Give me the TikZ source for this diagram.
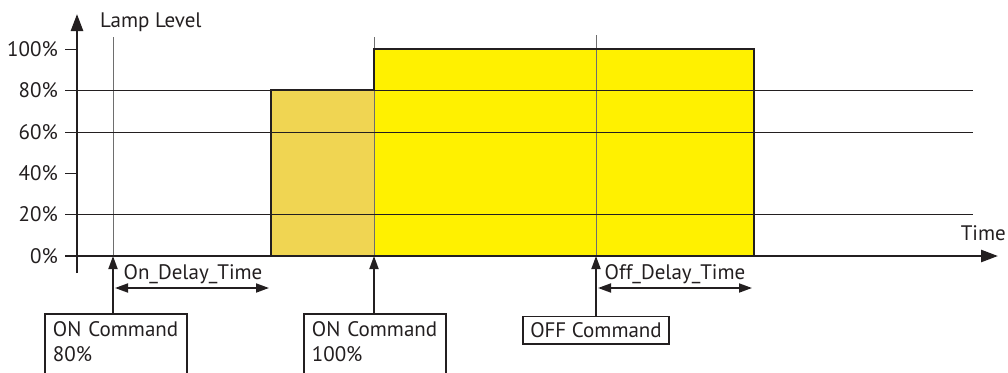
\documentclass[tikz,border=0pt]{standalone}
\usepackage{fontspec}
\setmainfont{PT Sans}
\usetikzlibrary{arrows.meta}
\definecolor{ink}{RGB}{35,31,32}
\definecolor{amber}{RGB}{240,213,82}
\definecolor{lemon}{RGB}{255,241,0}
\definecolor{guide}{RGB}{110,110,110}
\begin{document}
\begin{tikzpicture}[x=1pt,y=-1pt,
  font=\fontsize{21}{25}\selectfont,
  axis/.style={draw=ink,line width=2.6pt},
  grid/.style={draw=ink,line width=0.9pt},
  guideline/.style={draw=guide,line width=0.9pt},
  stepline/.style={draw=ink,line width=2.6pt,line join=miter},
  ticklbl/.style={anchor=east,inner sep=0pt,text=ink},
  cmdbox/.style={draw=ink,line width=1.8pt,anchor=north west,align=left,text width=126pt,inner xsep=8pt,inner ysep=8pt,text depth=30pt,text=ink},
  cmdarrow/.style={draw=ink,line width=1.8pt,-{Triangle[length=13pt,width=9pt]}},
  span/.style={draw=ink,line width=1.8pt,{Triangle[length=13pt,width=9pt]}-{Triangle[length=13pt,width=9pt]}},
  lbl/.style={inner sep=0pt,text=ink}]
\useasboundingbox (0,0) rectangle (1008,372);
\clip (0,0) rectangle (1008,372);
% fills
\fill[amber] (271,256) rectangle (374,90);
\fill[lemon] (374,256) rectangle (754,49);
% vertical guide lines
\draw[guideline] (113,37) -- (113,256);
\draw[guideline] (374,37) -- (374,256);
\draw[guideline] (596,35) -- (596,256);
% grid lines
\foreach \yy in {90,132,214} \draw[grid] (65,\yy) -- (973,\yy);
\foreach \yy in {49,173,256} \draw[grid] (65,\yy) -- (77,\yy);
% step outline
\draw[stepline] (271,256) -- (271,90) -- (374,90) -- (374,49) -- (754,49) -- (754,256);
% axes
\coordinate (ybot) at (77,273);
\coordinate (ytop) at (77,14);
\coordinate (xleft) at (65,256);
\coordinate (xright) at (998,256);
\draw[axis,-{Triangle[length=17pt,width=12pt]}] (ybot) -- (ytop);
\draw[axis,-{Triangle[length=17pt,width=12pt]}] (xleft) -- (xright);
% tick labels
\node[ticklbl] (l100) at (58,49) {100\%};
\node[ticklbl] (l80) at (58,90) {80\%};
\node[ticklbl] (l60) at (58,132) {60\%};
\node[ticklbl] (l40) at (58,173) {40\%};
\node[ticklbl] (l20) at (58,214) {20\%};
\node[ticklbl] (l0) at (58,256) {0\%};
\node[lbl,anchor=west] (ylabel) at (100,22) {Lamp Level};
\node[lbl,anchor=east] (xlabel) at (1006,233) {Time};
% command boxes
\node[cmdbox] (on80) at (44,313) {ON Command\\80\%};
\node[cmdbox] (on100) at (303,313) {ON Command\\100\%};
\node[draw=ink,line width=1.8pt,inner xsep=7pt,inner ysep=6pt,text=ink] (off) at (596,330) {OFF Command};
\coordinate (t1) at (113,256);
\coordinate (t2) at (374,256);
\coordinate (t3) at (596,256);
\draw[cmdarrow] (on80.north -| t1) -- (t1);
\draw[cmdarrow] (on100.north -| t2) -- (t2);
\draw[cmdarrow] (off.north) -- (t3);
% delay spans
\coordinate (d1a) at (115,288);
\coordinate (d1b) at (269,288);
\coordinate (d2a) at (598,288);
\coordinate (d2b) at (752,288);
\draw[span] (d1a) -- (d1b);
\draw[span] (d2a) -- (d2b);
\node[lbl] (ondelay) at (193,274) {On\_Delay\_Time};
\node[lbl] (offdelay) at (675,274) {Off\_Delay\_Time};
\end{tikzpicture}
\end{document}
